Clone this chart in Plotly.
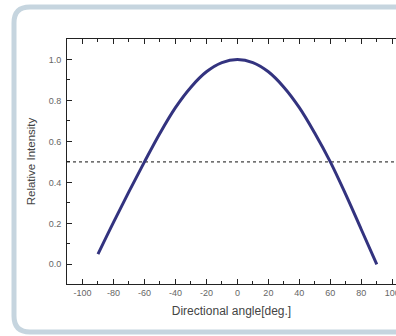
import plotly.graph_objects as go

# Data
angles = [-90, -80, -70, -60, -50, -40, -30, -20, -10, 0, 10, 20, 30, 40, 50, 60, 70, 80, 90]
intensity = [0.05, 0.205, 0.355, 0.5, 0.64, 0.765, 0.865, 0.94, 0.985, 1.0,
             0.985, 0.94, 0.865, 0.765, 0.64, 0.5, 0.34, 0.17, 0.0]
half_level = 0.5
x_tick_vals = [-100, -80, -60, -40, -20, 0, 20, 40, 60, 80, 100]
x_tick_text = ["-100", "-80", "-60", "-40", "-20", "0", "20", "40", "60", "80", "100"]
y_tick_vals = [0.0, 0.2, 0.4, 0.6, 0.8, 1.0]
y_tick_text = ["0.0", "0.2", "0.4", "0.6", "0.8", "1.0"]

W, H = 396, 336
L, R, T, B = 67, 0, 39, 52
pw, ph = W - L - R, H - T - B

def px2paper(x, y):
    return (x - L) / pw, (H - B - y) / ph

fig = go.Figure()

fig.add_trace(go.Scatter(
    x=[-110, 110], y=[half_level, half_level], mode="lines",
    line=dict(color="#111111", width=1, dash="dot"), hoverinfo="skip", showlegend=False))

fig.add_trace(go.Scatter(
    x=angles, y=intensity, mode="lines",
    line=dict(color="#33337f", width=3, shape="spline"), showlegend=False))

# rounded frame (pixel geometry converted to paper coords)
x0, y0, x1, y1, r = 14, 7, 420, 332, 16
def P(x, y):
    a, b = px2paper(x, y)
    return f"{a:.5f},{b:.5f}"
path = (f"M {P(x0 + r, y0)} L {P(x1, y0)} M {P(x1, y1)} L {P(x0 + r, y1)} "
        f"Q {P(x0, y1)} {P(x0, y1 - r)} L {P(x0, y0 + r)} Q {P(x0, y0)} {P(x0 + r, y0)}")
fig.add_shape(type="path", path=path, xref="paper", yref="paper",
              line=dict(color="#c6d5df", width=5), layer="below")

fig.update_layout(
    width=W, height=H,
    margin=dict(l=L, r=R, t=T, b=B, autoexpand=False),
    paper_bgcolor="white", plot_bgcolor="white",
    font=dict(family="Liberation Sans, Arial, sans-serif", color="#555555"),
    xaxis=dict(
        range=[-110, 102.4], tickvals=x_tick_vals, ticktext=x_tick_text,
        ticks="inside", ticklen=5, tickwidth=1, tickcolor="#222",
        showline=True, linecolor="#222", linewidth=1, mirror="ticks",
        showgrid=False, zeroline=False, ticklabeloverflow="allow", automargin=False,
        tickfont=dict(size=9, color="#666"),
        minor=dict(ticks="inside", ticklen=3, dtick=10, tick0=0, tickcolor="#222", showgrid=False),
        title=dict(text="Directional angle[deg.]", font=dict(size=12, color="#444"), standoff=9),
    ),
    yaxis=dict(
        range=[-0.096, 1.1], tickvals=y_tick_vals, ticktext=y_tick_text,
        ticks="inside", ticklen=5, tickwidth=1, tickcolor="#222",
        showline=True, linecolor="#222", linewidth=1, mirror=False,
        showgrid=False, zeroline=False, ticklabelstandoff=3, automargin=False,
        tickfont=dict(size=9, color="#666"),
        minor=dict(ticks="inside", ticklen=3, dtick=0.1, tick0=0, tickcolor="#222", showgrid=False),
        title=dict(text="Relative Intensity", font=dict(size=11.5, color="#444"), standoff=10),
    ),
)

fig.write_html("out.html")
